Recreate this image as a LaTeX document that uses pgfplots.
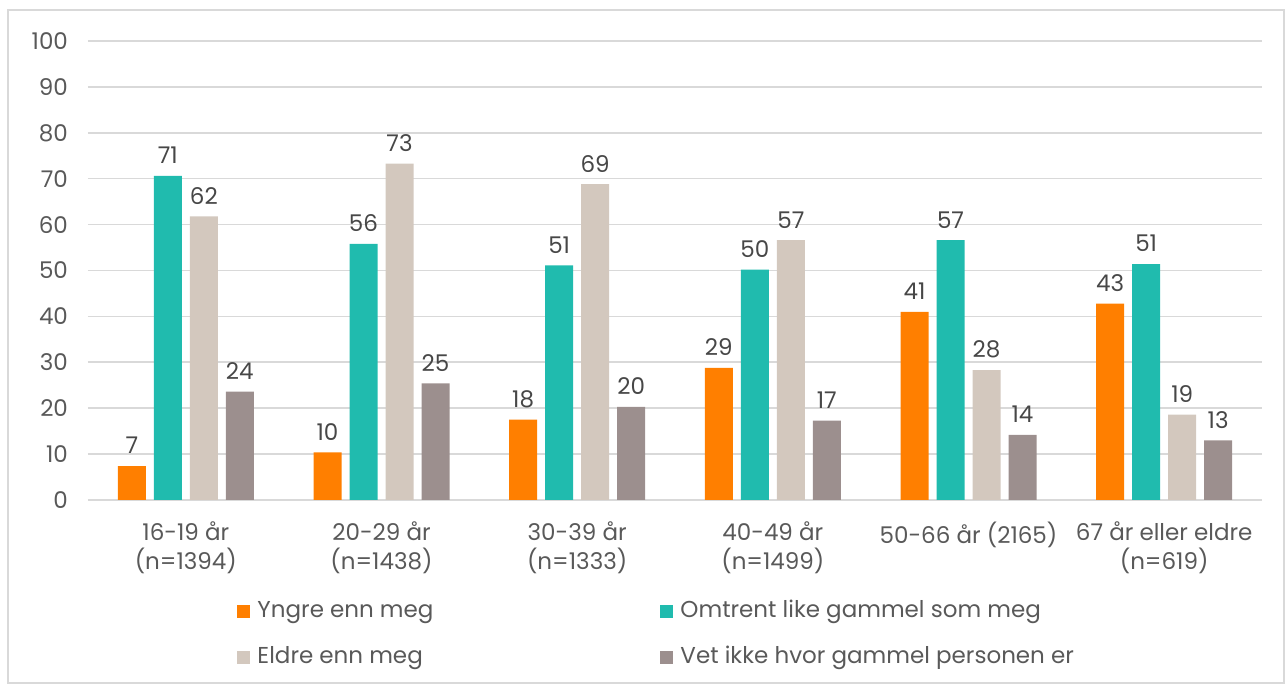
\documentclass[border=0pt]{standalone}
\usepackage{fontspec}
\setmainfont{Poppins}
\usepackage{pgfplots}
\pgfplotsset{compat=1.18}
\definecolor{cOrange}{HTML}{FF7F00}
\definecolor{cTeal}{HTML}{20BBAE}
\definecolor{cBeige}{HTML}{D3C8BE}
\definecolor{cGray}{HTML}{9C8F8E}
\definecolor{txt}{HTML}{595959}
\definecolor{gridc}{HTML}{D9D9D9}
\begin{document}
\fontsize{11.5}{14}\selectfont
\begin{tikzpicture}
\path (0,0) rectangle (642.5pt,342pt);
\draw[gridc, line width=0.6pt] (4pt,0.5pt) rectangle (642pt,337pt);
\begin{axis}[
    at={(44pt,92pt)}, anchor=south west,
    scale only axis,
    width=587pt, height=229.5pt,
    ybar=4pt,
    bar width=14pt,
    xmin=-0.5, xmax=5.5,
    ymin=0, ymax=100,
    ytick={0,10,...,100},
    xtick={0,1,2,3,4,5},
    xticklabels={{16-19 år\\(n=1394)},{20-29 år\\(n=1438)},{30-39 år\\(n=1333)},{40-49 år\\(n=1499)},{50-66 år (2165)},{67 år eller eldre\\(n=619)}},
    xticklabel style={align=center, text=txt, yshift=-7pt, font=\fontsize{11.5}{14.5}\selectfont},
    yticklabel style={text=txt, xshift=-6pt},
    /pgf/number format/assume math mode=true,
    major tick length=0pt,
    axis line style={draw=none},
    ymajorgrids,
    grid style={gridc, line width=0.8pt},
    nodes near coords,
    every node near coord/.append style={text=txt!80!black, yshift=2pt, /pgf/number format/.cd, fixed, precision=0, assume math mode=true},
    legend columns=2,
    legend style={at={(0.127,-0.207)}, anchor=north west, draw=none, fill=none, inner sep=0pt,
        row sep=7pt, column sep=0pt,
        nodes={text=txt, text height=9pt, text depth=3pt, inner ysep=2pt, inner xsep=3.5pt}},
    legend cell align=left,
    legend image code/.code={\fill[#1] (0pt,-3.25pt) rectangle (6.5pt,3.25pt);},
]
\draw[gridc, line width=0.9pt] (axis cs:-0.5,0) -- (axis cs:5.5,0);
\addplot[fill=cOrange, draw=none] coordinates {(0,7.4) (1,10.4) (2,17.5) (3,28.8) (4,41.0) (5,42.8)};
\addplot[fill=cTeal, draw=none] coordinates {(0,70.6) (1,55.8) (2,51.1) (3,50.2) (4,56.6) (5,51.4)};
\addplot[fill=cBeige, draw=none] coordinates {(0,61.8) (1,73.3) (2,68.8) (3,56.6) (4,28.3) (5,18.6)};
\addplot[fill=cGray, draw=none] coordinates {(0,23.6) (1,25.4) (2,20.3) (3,17.3) (4,14.2) (5,13.0)};
\addlegendentry{\makebox[198pt][l]{Yngre enn meg}}
\addlegendentry{Omtrent like gammel som meg}
\addlegendentry{\makebox[198pt][l]{Eldre enn meg}}
\addlegendentry{Vet ikke hvor gammel personen er}
\end{axis}
\end{tikzpicture}
\end{document}
